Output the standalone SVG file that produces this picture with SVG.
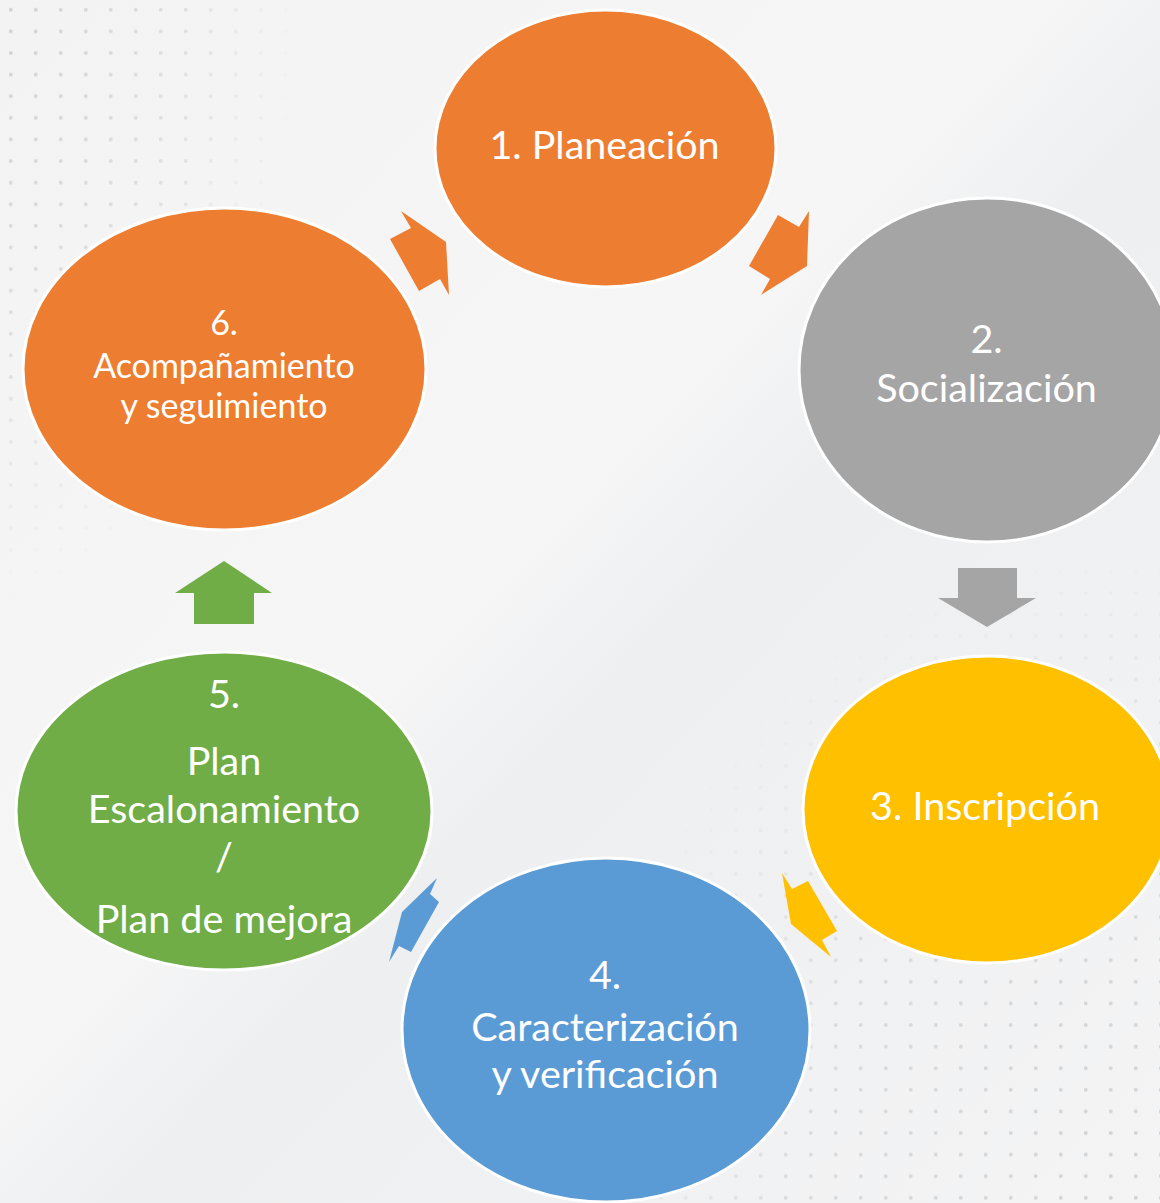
<svg xmlns="http://www.w3.org/2000/svg" width="1160" height="1203" viewBox="0 0 1160 1203">
  <defs>
    <linearGradient id="bg" x1="0" y1="0" x2="1" y2="1">
      <stop offset="0" stop-color="#f3f3f4"/>
      <stop offset="0.45" stop-color="#f6f6f7"/>
      <stop offset="0.55" stop-color="#eeeff0"/>
      <stop offset="1" stop-color="#f4f4f5"/>
    </linearGradient>
    <pattern id="dots" x="0" y="0" width="25" height="21.6" patternUnits="userSpaceOnUse">
      <rect x="9" y="8" width="3.5" height="3.5" rx="1" fill="#cfd0d2"/>
    </pattern>
    <radialGradient id="fadeTL" cx="0" cy="0" r="1" gradientUnits="objectBoundingBox">
      <stop offset="0" stop-color="#fff" stop-opacity="1"/>
      <stop offset="0.6" stop-color="#fff" stop-opacity="0.6"/>
      <stop offset="1" stop-color="#fff" stop-opacity="0"/>
    </radialGradient>
    <radialGradient id="fadeBR" cx="1" cy="1" r="1" gradientUnits="objectBoundingBox">
      <stop offset="0" stop-color="#fff" stop-opacity="1"/>
      <stop offset="0.6" stop-color="#fff" stop-opacity="0.7"/>
      <stop offset="1" stop-color="#fff" stop-opacity="0"/>
    </radialGradient>
    <mask id="mTL"><rect x="0" y="0" width="300" height="600" fill="url(#fadeTL)"/></mask>
    <mask id="mBR"><rect x="560" y="540" width="600" height="663" fill="url(#fadeBR)"/></mask>
  </defs>
  <style>
    .node ellipse { stroke: #ffffff; stroke-width: 3; }
    .lbl { font-family: Lato, "Open Sans", "Liberation Sans", sans-serif; fill: #ffffff; text-anchor: middle; }
    .big { font-size: 39.5px; }
    .mid { font-size: 34px; }
  </style>

  <rect x="0" y="0" width="1160" height="1203" fill="url(#bg)"/>
  <rect x="0" y="0" width="300" height="600" fill="url(#dots)" mask="url(#mTL)"/>
  <rect x="560" y="540" width="600" height="663" fill="url(#dots)" mask="url(#mBR)"/>

  <g id="connectors">
    <polygon fill="#ED7D31" points="401,211 446,242 449,295 440,279 419,291 390,239 411,228"/>
    <polygon fill="#ED7D31" points="778,215 799,227 809,211 807,266 761,295 770,279 749,266"/>
    <polygon fill="#A5A5A5" points="958,568 1017,568 1017,598 1036,598 987,627 938,598 958,598"/>
    <polygon fill="#FFC000" points="782,873 792,889 808,881 837,931 822,940 831,957 791,924"/>
    <polygon fill="#5B9BD5" points="437,878 430,894 439,902 411,952 399,946 389,962 402,912"/>
    <polygon fill="#70AD47" points="224,561 272,593 254,593 254,624 194,624 194,593 175,593"/>
  </g>

  <g id="node1" class="node">
    <ellipse cx="605.5" cy="148.5" rx="170.5" ry="138.5" fill="#ED7D31"/>
    <text class="lbl big" x="604.5" y="159">1. Planeación</text>
  </g>

  <g id="node2" class="node">
    <ellipse cx="987" cy="370" rx="188" ry="172" fill="#A5A5A5"/>
    <text class="lbl big" x="986.5" y="353">2.</text>
    <text class="lbl big" x="986.5" y="402">Socialización</text>
  </g>

  <g id="node3" class="node">
    <ellipse cx="987" cy="809.5" rx="184" ry="153.5" fill="#FFC000"/>
    <text class="lbl big" x="985" y="820">3. Inscripción</text>
  </g>

  <g id="node4" class="node">
    <ellipse cx="606" cy="1030" rx="204" ry="172" fill="#5B9BD5"/>
    <text class="lbl big" x="605" y="989">4.</text>
    <text class="lbl big" x="605" y="1041">Caracterización</text>
    <text class="lbl big" x="605" y="1088">y verificación</text>
  </g>

  <g id="node5" class="node">
    <ellipse cx="224" cy="811" rx="208" ry="159" fill="#70AD47"/>
    <text class="lbl big" x="224" y="708">5.</text>
    <text class="lbl big" x="224" y="775">Plan</text>
    <text class="lbl big" x="224" y="823">Escalonamiento</text>
    <text class="lbl big" x="224" y="870">/</text>
    <text class="lbl big" x="224" y="933">Plan de mejora</text>
  </g>

  <g id="node6" class="node">
    <ellipse cx="224.5" cy="369" rx="201.5" ry="161" fill="#ED7D31"/>
    <text class="lbl mid" x="224" y="335">6.</text>
    <text class="lbl mid" x="224" y="378">Acompañamiento</text>
    <text class="lbl mid" x="224" y="418">y seguimiento</text>
  </g>
</svg>
